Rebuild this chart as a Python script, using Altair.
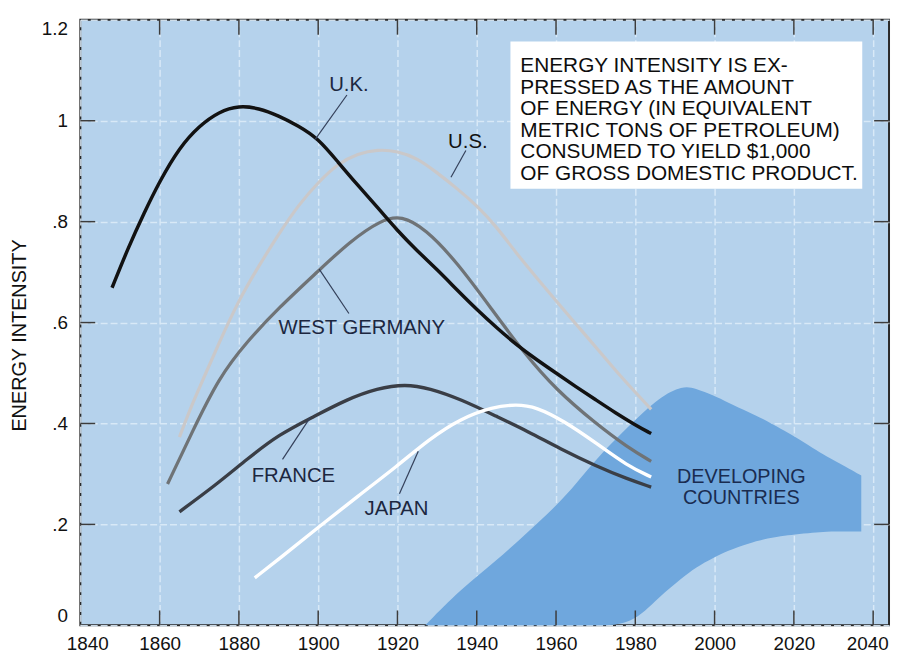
import altair as alt
import pandas as pd

# ---- data ----
uk_years = [1848, 1852, 1856, 1860, 1865, 1870, 1875, 1880, 1885, 1890, 1895, 1900, 1905, 1910, 1915,
            1920, 1925, 1930, 1935, 1940, 1945, 1950, 1955, 1960, 1965, 1970, 1975, 1980, 1984]
uk_values = [0.669, 0.747, 0.816, 0.880, 0.947, 0.990, 1.018, 1.030, 1.025, 1.010, 0.990, 0.965, 0.918,
             0.872, 0.828, 0.782, 0.742, 0.705, 0.665, 0.626, 0.590, 0.556, 0.527, 0.500, 0.473, 0.447,
             0.421, 0.397, 0.380]

us_years = [1865, 1868, 1871, 1875, 1880, 1885, 1890, 1895, 1900, 1905, 1910, 1915, 1920, 1925, 1930,
            1935, 1940, 1945, 1950, 1955, 1960, 1965, 1970, 1975, 1980, 1984]
us_values = [0.373, 0.435, 0.488, 0.560, 0.645, 0.712, 0.775, 0.833, 0.878, 0.915, 0.935, 0.943, 0.940,
             0.926, 0.897, 0.866, 0.832, 0.790, 0.737, 0.690, 0.643, 0.597, 0.552, 0.505, 0.462, 0.428]

wg_years = [1862, 1868, 1875, 1882, 1890, 1900, 1908, 1916, 1921, 1927, 1935, 1944, 1952, 1960, 1970,
            1978, 1984]
wg_values = [0.280, 0.380, 0.492, 0.562, 0.629, 0.702, 0.761, 0.804, 0.812, 0.786, 0.720, 0.624, 0.539,
             0.467, 0.400, 0.353, 0.325]

fr_years = [1865, 1874, 1882, 1890, 1899, 1907, 1915, 1922, 1928, 1936, 1945, 1953, 1961, 1970, 1978, 1984]
fr_values = [0.225, 0.277, 0.329, 0.378, 0.414, 0.447, 0.470, 0.478, 0.470, 0.448, 0.414, 0.384, 0.350,
             0.316, 0.290, 0.274]

jp_years = [1884, 1890, 1900, 1910, 1920, 1928, 1936, 1944, 1950, 1955, 1962, 1970, 1978, 1984]
jp_values = [0.094, 0.131, 0.194, 0.256, 0.316, 0.369, 0.410, 0.433, 0.438, 0.433, 0.405, 0.362, 0.316, 0.294]

dev_years = [1927, 1936, 1945, 1953, 1962, 1970, 1979, 1986, 1992, 1995, 2000, 2003, 2009, 2012, 2017,
             2020, 2025, 2028, 2033, 2037]
dev_upper = [0.0, 0.072, 0.128, 0.186, 0.250, 0.330, 0.400, 0.452, 0.475, 0.470, 0.455, 0.443, 0.421,
             0.410, 0.388, 0.375, 0.350, 0.336, 0.315, 0.297]
dev_lower = [0.0, 0.0, 0.0, 0.0, 0.0, 0.0, 0.0, 0.057, 0.095, 0.114, 0.135, 0.147, 0.163, 0.170, 0.177,
             0.180, 0.184, 0.186, 0.186, 0.186]

series_names = ["U.S.", "WEST GERMANY", "FRANCE", "JAPAN", "U.K."]
series_colors = ["#cac8c9", "#6f7376", "#3a3e46", "#ffffff", "#121212"]
series_widths = [3.2, 3.5, 3.8, 4.0, 4.6]

x_ticks = [1840, 1860, 1880, 1900, 1920, 1940, 1960, 1980, 2000, 2020, 2040]
y_ticks = [0, 0.2, 0.4, 0.6, 0.8, 1.0, 1.2]

note_text = ("ENERGY INTENSITY IS EX-\nPRESSED AS THE AMOUNT\nOF ENERGY (IN EQUIVALENT\n"
             "METRIC TONS OF PETROLEUM)\nCONSUMED TO YIELD $1,000\nOF GROSS DOMESTIC PRODUCT.")

# ---- tables ----
rows = []
for name, yrs, vals in [("U.S.", us_years, us_values), ("WEST GERMANY", wg_years, wg_values),
                        ("FRANCE", fr_years, fr_values), ("JAPAN", jp_years, jp_values),
                        ("U.K.", uk_years, uk_values)]:
    for y_, v_ in zip(yrs, vals):
        rows.append({"series": name, "year": y_, "value": v_})
lines_df = pd.DataFrame(rows)
dev_df = pd.DataFrame({"year": dev_years, "value": dev_upper, "lower": dev_lower})

labels_df = pd.DataFrame([
    {"label": "U.K.", "year": 1907.75, "value": 1.071, "col": "#1c2740"},
    {"label": "U.S.", "year": 1937.75, "value": 0.957, "col": "#111111"},
    {"label": "WEST GERMANY", "year": 1911.0, "value": 0.590, "col": "#1c2740"},
    {"label": "FRANCE", "year": 1893.75, "value": 0.296, "col": "#1c2740"},
    {"label": "JAPAN", "year": 1919.75, "value": 0.231, "col": "#1c2740"},
])
dev_label_df = pd.DataFrame([
    {"label": "DEVELOPING", "year": 2006.75, "value": 0.293},
    {"label": "COUNTRIES", "year": 2006.75, "value": 0.252},
])
leaders_df = pd.DataFrame([
    {"year": 1907.25, "value": 1.051, "year2": 1899.25, "value2": 0.963},
    {"year": 1937.25, "value": 0.941, "year2": 1933.5, "value2": 0.888},
    {"year": 1907.75, "value": 0.618, "year2": 1900.25, "value2": 0.706},
    {"year": 1891.0, "value": 0.329, "year2": 1898.0, "value2": 0.412},
    {"year": 1920.5, "value": 0.261, "year2": 1925.25, "value2": 0.345},
])
box_df = pd.DataFrame([{"year": 1948.5, "year2": 2037.25, "value": 1.157, "value2": 0.865}])
note_df = pd.DataFrame([{"year": 1951.0, "value": 1.130, "text": note_text}])
xt_df = pd.DataFrame({"year": x_ticks[1:]})
yt_df = pd.DataFrame({"value": y_ticks[1:-1]})

FONT = "Liberation Sans"
W, H = 816, 611

xscale = alt.Scale(domain=[1840, 2044], nice=False, zero=False)
yscale = alt.Scale(domain=[0, 1.2], nice=False, zero=True)
xaxis = alt.Axis(values=x_ticks, title=None, format="d", labelFont=FONT, labelFontSize=19,
                 labelColor="#111111", ticks=False, domain=False, labelPadding=9, labelFlush=False,
                 labelOffset={"condition": [{"test": "datum.value == 1840", "value": 7},
                                            {"test": "datum.value == 2040", "value": -6}],
                              "value": 0},
                 grid=True, gridColor="#dcebf8", gridDash=[7, 3], gridWidth=1.5, gridOpacity=0.9)
yaxis = alt.Axis(values=y_ticks, title="ENERGY INTENSITY", titleFont=FONT, titleFontSize=20,
                 titleFontWeight="normal", titleColor="#111111", titleX=-61, titleY=318,
                 titleAngle=270, titleBaseline="middle", titleAlign="center",
                 labelExpr="datum.value > 0 && datum.value < 1 ? '.' + format(datum.value * 10, 'd') : format(datum.value, '~g')",
                 labelFont=FONT, labelFontSize=19, labelColor="#111111", ticks=False, domain=False,
                 labelPadding=13, labelFlush=True,
                 grid=True, gridColor="#dcebf8", gridDash=[7, 3], gridWidth=1.5, gridOpacity=0.9)

X = alt.X("year:Q", scale=xscale, axis=xaxis)
Y = alt.Y("value:Q", scale=yscale, axis=yaxis)

area = alt.Chart(dev_df).mark_area(color="#6fa7dd", interpolate="basis").encode(
    x=X, y=Y, y2=alt.Y2("lower:Q"))

lines = alt.Chart(lines_df).mark_line(interpolate="basis", strokeCap="butt").encode(
    x=X, y=Y,
    color=alt.Color("series:N", scale=alt.Scale(domain=series_names, range=series_colors), legend=None),
    strokeWidth=alt.StrokeWidth("series:N", scale=alt.Scale(domain=series_names, range=series_widths),
                                legend=None),
    order=alt.Order("year:Q"),
)

leaders = alt.Chart(leaders_df).mark_rule(color="#34405a", strokeWidth=1.2).encode(
    x=X, y=Y, x2=alt.X2("year2:Q"), y2=alt.Y2("value2:Q"))

labels = alt.Chart(labels_df).mark_text(font=FONT, fontSize=20.5, align="center", baseline="middle").encode(
    x=X, y=Y, text="label:N", color=alt.Color("col:N", scale=None))

dev_labels = alt.Chart(dev_label_df).mark_text(font=FONT, fontSize=20, align="center", baseline="middle",
                                               color="#1a2c50").encode(
    x=X, y=Y, text="label:N")

box = alt.Chart(box_df).mark_rect(fill="white").encode(
    x=X, x2=alt.X2("year2:Q"), y=Y, y2=alt.Y2("value2:Q"))

note = alt.Chart(note_df).mark_text(font=FONT, fontSize=21, align="left", baseline="top",
                                    lineBreak="\n", lineHeight=21.8, color="#0d0d0d").encode(
    x=X, y=Y, text="text:N")

tick_color = "#3c3c3c"
xt_bottom = alt.Chart(xt_df).mark_rule(color=tick_color, strokeWidth=1.5).encode(
    x=X, y=alt.value(H), y2=alt.value(H - 15))
xt_top = alt.Chart(xt_df).mark_rule(color=tick_color, strokeWidth=1.5).encode(
    x=X, y=alt.value(0), y2=alt.value(15))
yt_left = alt.Chart(yt_df).mark_rule(color=tick_color, strokeWidth=1.5).encode(
    y=Y, x=alt.value(0), x2=alt.value(15))
yt_right = alt.Chart(yt_df).mark_rule(color=tick_color, strokeWidth=1.5).encode(
    y=Y, x=alt.value(W), x2=alt.value(W - 15))

chart = alt.layer(
    area, lines, leaders, labels, dev_labels, box, note, xt_bottom, xt_top, yt_left, yt_right
).properties(
    width=W, height=H,
    autosize=alt.AutoSizeParams(type="none"),
    padding={"left": 73, "top": 9, "right": 2, "bottom": 26},
    background="white",
).configure_view(
    fill="#b5d2ec", stroke="#2a2a2a", strokeWidth=2
)

chart.save("out.html", embed_options={"renderer": "svg", "actions": False})
